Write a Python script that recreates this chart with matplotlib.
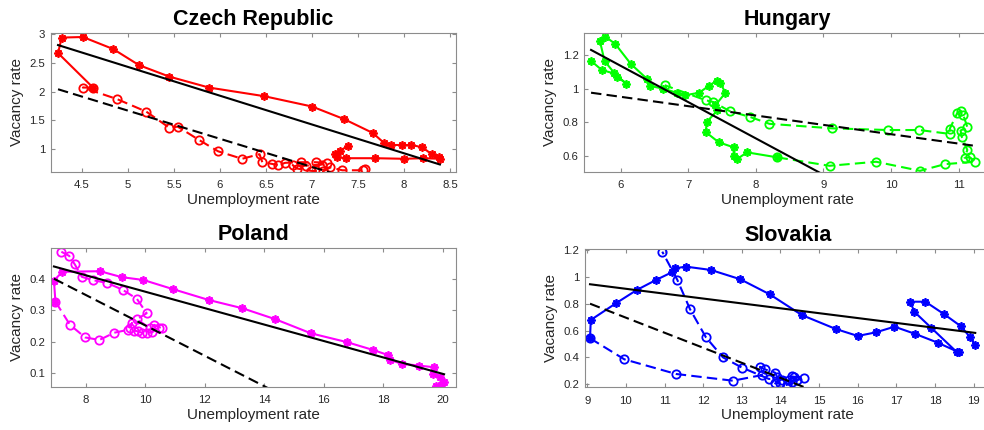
import numpy as np
import matplotlib.pyplot as plt
from matplotlib.ticker import FuncFormatter

plt.rcParams['font.family'] = ['Liberation Sans', 'DejaVu Sans']

# Beveridge curves: unemployment rate vs vacancy rate
# series a = first period (solid, *), series b = second period (dashed, o)

# Czech Republic
cz_u_a = [7.39, 7.30, 7.25, 7.27, 7.37, 7.69, 8.00, 8.21, 8.39, 8.38, 8.30, 8.20, 8.08, 7.98,
          7.86, 7.78, 7.66, 7.35, 7.00, 6.48, 5.88, 5.45, 5.12, 4.84, 4.51, 4.28, 4.24, 4.62]
cz_v_a = [1.05, 0.97, 0.92, 0.86, 0.84, 0.84, 0.83, 0.84, 0.83, 0.86, 0.91, 1.03, 1.07, 1.07,
          1.07, 1.11, 1.28, 1.52, 1.74, 1.92, 2.07, 2.26, 2.46, 2.74, 2.95, 2.94, 2.67, 2.07]
cz_u_b = [4.62, 4.51, 4.88, 5.20, 5.45, 5.54, 5.77, 5.98, 6.24, 6.43, 6.46, 6.57, 6.63, 6.71,
          6.88, 7.04, 7.16, 7.11, 6.93, 6.79, 6.84, 6.99, 7.12, 7.20, 7.33, 7.55, 7.58]
cz_v_b = [2.07, 2.07, 1.87, 1.65, 1.37, 1.39, 1.16, 0.96, 0.83, 0.91, 0.77, 0.74, 0.72, 0.76,
          0.77, 0.77, 0.76, 0.73, 0.71, 0.72, 0.66, 0.62, 0.61, 0.68, 0.63, 0.63, 0.66]
cz_fit_a = (-0.501, 4.934)   # slope, intercept
cz_fit_b = (-0.490, 4.118)

# Hungary
hu_u_a = [5.56, 5.72, 5.90, 6.08, 5.95, 5.76, 5.69, 5.77, 5.92, 6.15, 6.39, 6.44, 6.62, 6.83,
          6.95, 7.16, 7.30, 7.42, 7.47, 7.55, 7.40, 7.43, 7.27, 7.26, 7.45, 7.67, 7.67, 7.72,
          7.87, 8.32]
hu_v_a = [1.165, 1.11, 1.09, 1.03, 1.07, 1.164, 1.285, 1.31, 1.265, 1.146, 1.057, 1.015, 1.00,
          0.975, 0.96, 0.975, 1.015, 1.047, 1.035, 0.975, 0.90, 0.87, 0.80, 0.74, 0.68, 0.65,
          0.60, 0.58, 0.62, 0.59]
hu_u_b = [8.32, 9.09, 9.78, 10.43, 10.80, 11.25, 11.17, 11.09, 11.13, 11.05, 11.03, 11.13,
          11.07, 11.03, 10.98, 10.87, 10.87, 10.42, 9.96, 9.13, 8.20, 7.92, 7.61, 7.37, 7.26,
          6.65]
hu_v_b = [0.59, 0.54, 0.564, 0.51, 0.55, 0.564, 0.59, 0.588, 0.634, 0.71, 0.75, 0.77, 0.843,
          0.868, 0.853, 0.76, 0.73, 0.753, 0.753, 0.763, 0.79, 0.83, 0.866, 0.92, 0.93, 1.02]
hu_fit_a = (-0.216, 2.431)
hu_fit_b = (-0.0557, 1.285)

# Poland
pl_u_a = [19.78, 19.95, 20.05, 19.92, 19.68, 19.72, 19.22, 18.63, 18.24, 18.16, 17.66, 16.78,
          15.57, 14.37, 13.26, 12.14, 10.92, 9.93, 9.20, 8.47, 7.20, 6.92, 6.97]
pl_v_a = [0.060, 0.062, 0.072, 0.088, 0.098, 0.119, 0.124, 0.130, 0.142, 0.158, 0.174, 0.199,
          0.227, 0.272, 0.307, 0.333, 0.368, 0.397, 0.406, 0.425, 0.423, 0.395, 0.328]
pl_u_b = [6.97, 7.46, 7.97, 8.45, 8.95, 9.40, 9.55, 9.48, 9.62, 9.75, 9.88, 10.04, 10.21, 10.47,
          10.55, 10.30, 10.16, 9.71, 10.04, 9.71, 9.23, 8.70, 8.25, 7.86, 7.62, 7.43, 7.17]
pl_v_b = [0.328, 0.254, 0.214, 0.206, 0.229, 0.238, 0.26, 0.245, 0.236, 0.233, 0.229, 0.227,
          0.232, 0.245, 0.243, 0.254, 0.243, 0.272, 0.291, 0.337, 0.366, 0.388, 0.396, 0.407,
          0.447, 0.474, 0.487]
pl_fit_a = (-0.02615, 0.621)
pl_fit_b = (-0.0484, 0.736)

# Slovakia
sk_u_a = [19.04, 18.90, 18.66, 18.24, 17.75, 17.36, 17.46, 17.90, 18.57, 18.62, 18.07, 17.49,
          16.95, 16.47, 16.00, 15.43, 14.55, 13.72, 12.96, 12.20, 11.55, 11.27, 11.19, 10.78,
          10.28, 9.74, 9.09, 9.07]
sk_v_a = [0.493, 0.554, 0.634, 0.721, 0.815, 0.815, 0.741, 0.621, 0.438, 0.438, 0.51, 0.575,
          0.629, 0.587, 0.560, 0.612, 0.716, 0.870, 0.982, 1.051, 1.076, 1.063, 1.034, 0.977,
          0.902, 0.803, 0.679, 0.543]
sk_u_b = [9.07, 9.96, 11.30, 12.77, 13.52, 13.47, 13.60, 13.86, 13.91, 14.03, 13.86, 13.99,
          14.16, 14.29, 14.21, 14.29, 14.42, 14.60, 14.34, 13.70, 13.00, 12.51, 12.07, 11.66,
          11.33, 10.94]
sk_v_b = [0.543, 0.386, 0.277, 0.227, 0.269, 0.331, 0.311, 0.287, 0.257, 0.232, 0.207, 0.207,
          0.195, 0.22, 0.232, 0.262, 0.232, 0.244, 0.257, 0.24, 0.325, 0.401, 0.55, 0.758,
          0.977, 1.187]
sk_fit_a = (-0.0363, 1.274)
sk_fit_b = (-0.112, 1.816)

fig = plt.figure(figsize=(9.84, 4.30), dpi=100)

panels = [
    ('Czech Republic', 'red', cz_u_a, cz_v_a, cz_u_b, cz_v_b, cz_fit_a, cz_fit_b,
     [0.0515, 0.600, 0.4119, 0.3233], (4.16, 8.565), (0.6, 3.02),
     np.arange(4.5, 8.51, 0.5), [1, 1.5, 2, 2.5, 3]),
    ('Hungary', 'lime', hu_u_a, hu_v_a, hu_u_b, hu_v_b, hu_fit_a, hu_fit_b,
     [0.5938, 0.600, 0.4119, 0.3233], (5.46, 11.46), (0.503, 1.331),
     np.arange(6, 11.1, 1), [0.6, 0.8, 1, 1.2]),
    ('Poland', 'magenta', pl_u_a, pl_v_a, pl_u_b, pl_v_b, pl_fit_a, pl_fit_b,
     [0.0518, 0.1007, 0.4119, 0.3219], (6.82, 20.46), (0.057, 0.498),
     np.arange(8, 20.1, 2), [0.1, 0.2, 0.3, 0.4]),
    ('Slovakia', 'blue', sk_u_a, sk_v_a, sk_u_b, sk_v_b, sk_fit_a, sk_fit_b,
     [0.5945, 0.0993, 0.4119, 0.3216], (8.94, 19.43), (0.178, 1.207),
     np.arange(9, 19.1, 1), [0.2, 0.4, 0.6, 0.8, 1, 1.2]),
]

dash = (0, (5, 2.5))
fmt = FuncFormatter(lambda x, pos: f'{x:g}')

for (title, col, u_a, v_a, u_b, v_b, fit_a, fit_b, pos, xl, yl, xt, yt) in panels:
    ax = fig.add_axes(pos)
    ax.plot(u_a, v_a, '-', color=col, lw=1.5, marker=(8, 2, 0), ms=6, mew=1.3)
    ax.plot(u_b, v_b, linestyle=dash, color=col, lw=1.5, marker='o', ms=6,
            mfc='none', mew=1.3)

    # linear fits over the whole unemployment range
    xs = np.array([min(min(u_a), min(u_b)), max(max(u_a), max(u_b))])
    ax.plot(xs, fit_a[0] * xs + fit_a[1], color='k', lw=1.5)
    ax.plot(xs, fit_b[0] * xs + fit_b[1], color='k', lw=1.5, linestyle=dash)

    ax.set_xlim(xl)
    ax.set_ylim(yl)
    ax.set_xticks(xt)
    ax.set_yticks(yt)
    ax.xaxis.set_major_formatter(fmt)
    ax.yaxis.set_major_formatter(fmt)
    ax.tick_params(direction='in', length=3, width=0.8, color='#8c8c8c',
                   labelcolor='#262626', labelsize=8.2, top=True, right=True)
    ax.tick_params(axis='x', pad=6)
    ax.tick_params(axis='y', pad=4)
    for s in ax.spines.values():
        s.set_color('#8c8c8c')
        s.set_linewidth(0.8)

    ax.set_title(title, fontsize=15.5, fontweight='bold', pad=6)
    ax.set_xlabel('Unemployment rate', fontsize=11, color='#262626', labelpad=2)
    ax.set_ylabel('Vacancy rate', fontsize=11, color='#262626', labelpad=4)

plt.savefig('out.png', dpi=100)
